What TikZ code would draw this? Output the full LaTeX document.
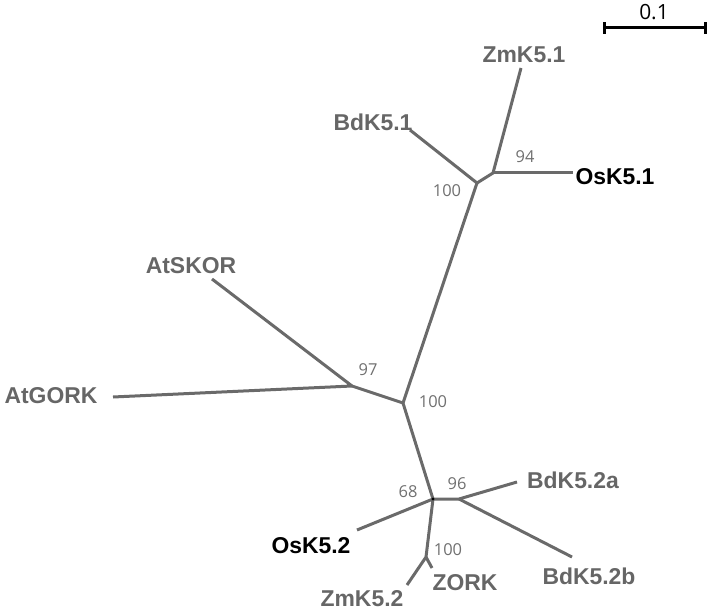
\documentclass[tikz,border=0pt]{standalone}
\usepackage{fontspec}
\setmainfont{Liberation Sans}
\newfontfamily\numfont{Open Sans}
\definecolor{branch}{HTML}{6A6A6A}
\definecolor{labgray}{HTML}{666666}
\definecolor{numgray}{HTML}{707070}
\tikzset{
  br/.style={draw=branch, line width=3bp, line cap=butt, line join=round},
  leaf/.style={font=\fontsize{23}{26}\selectfont\bfseries, text=labgray, inner sep=0pt},
  leafblack/.style={leaf, text=black},
  boot/.style={font=\numfont\fontsize{16.5}{18}\selectfont, text=numgray, inner sep=0pt},
  scalebar/.style={draw=black, line width=3bp}
}
\begin{document}
\begin{tikzpicture}[x=1bp,y=-1bp]
\useasboundingbox (0,0) rectangle (709,611);
% internal nodes
\coordinate (nA) at (477,183);
\coordinate (nB) at (493,173);
\coordinate (nC) at (403,403);
\coordinate (nD) at (352,386);
\coordinate (nE) at (433,499);
\coordinate (nF) at (459,499);
\coordinate (nG) at (426,557);
% leaf tips
\coordinate (tZm1) at (521,68);
\coordinate (tBd1) at (410,130);
\coordinate (tOs1) at (573,173);
\coordinate (tSKOR) at (212,279);
\coordinate (tGORK) at (113,397);
\coordinate (tBd2a) at (517,482);
\coordinate (tBd2b) at (572,557);
\coordinate (tOs2) at (357,530);
\coordinate (tZm2) at (407,585);
\coordinate (tZORK) at (432,568);
% branches
\draw[br] (tBd1) -- (nA) -- (nB) -- (tZm1);
\draw[br] (nB) -- (tOs1);
\draw[br] (nA) -- (nC);
\draw[br] (tSKOR) -- (nD) -- (tGORK);
\draw[br] (nD) -- (nC) -- (nE);
\draw[br] (nE) -- (nF) -- (tBd2a);
\draw[br] (nF) -- (tBd2b);
\draw[br] (tOs2) -- (nE) -- (nG) -- (tZm2);
\draw[br] (nG) -- (tZORK);
\fill[black] (nE) circle (1.6bp);
% leaf labels
\node[leaf] (lZm1) at (524,55) {ZmK5.1};
\node[leaf] (lBd1) at (373,122) {BdK5.1};
\node[leafblack] (lOs1) at (615,177) {OsK5.1};
\node[leaf] (lSKOR) at (191,266) {AtSKOR};
\node[leaf] (lGORK) at (51,396) {AtGORK};
\node[leaf] (lBd2a) at (573,480) {BdK5.2a};
\node[leaf] (lBd2b) at (589,576) {BdK5.2b};
\node[leafblack] (lOs2) at (311,546) {OsK5.2};
\node[leaf] (lZORK) at (465,583) {ZORK};
\node[leaf] (lZm2) at (362,599) {ZmK5.2};
% bootstrap values
\node[boot] (b94) at (525,157) {94};
\node[boot] (b100a) at (447,191) {100};
\node[boot] (b97) at (368,370) {97};
\node[boot] (b100b) at (433,402) {100};
\node[boot] (b68) at (408,492) {68};
\node[boot] (b96) at (457,484) {96};
\node[boot] (b100c) at (448,550) {100};
% scale bar
\coordinate (sL) at (604,28);
\coordinate (sR) at (705,28);
\draw[scalebar] (sL) -- (sR);
\draw[scalebar] ([yshift=-6bp]sL) -- ([yshift=6bp]sL);
\draw[scalebar] ([yshift=-6bp]sR) -- ([yshift=6bp]sR);
\node[font=\numfont\fontsize{21}{23}\selectfont, text=black, inner sep=0pt] (sLab) at (654,12) {0.1};
\end{tikzpicture}
\end{document}
